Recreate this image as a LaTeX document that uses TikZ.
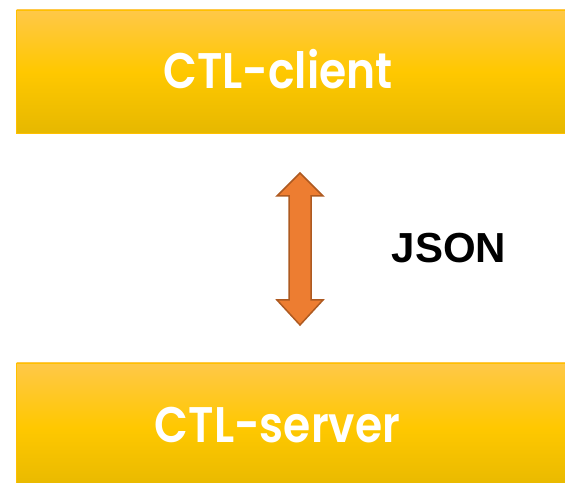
\documentclass[tikz,border=0pt]{standalone}
\usepackage{fontspec}
\newfontfamily\popfont{Poppins SemiBold}[FakeStretch=0.88]
\newfontfamily\jsonfont{Liberation Sans}
\definecolor{boxtop}{RGB}{255,200,72}
\definecolor{boxmid}{RGB}{255,200,0}
\definecolor{boxbot}{RGB}{230,184,0}
\definecolor{boxline}{RGB}{255,192,0}
\definecolor{arrfill}{RGB}{237,125,49}
\definecolor{arrline}{RGB}{174,90,33}
\begin{document}
\begin{tikzpicture}[x=1pt,y=1pt,
  ybox/.style={draw=boxline,line width=0.8pt,top color=boxtop,bottom color=boxbot,middle color=boxmid},
  boxtext/.style={text=white,font=\popfont\fontsize{50}{50}\selectfont,anchor=base},
  jsontext/.style={text=black,font=\jsonfont\bfseries\fontsize{42}{42}\selectfont,anchor=base},
  blockarrow/.style={fill=arrfill,draw=arrline,line width=1.5pt,line join=miter}]
\useasboundingbox (0,0) rectangle (565,482);
\begin{scope}
\clip (0,0) rectangle (565,482);
\path[ybox] (16.5,349) rectangle (580,472);
\path[ybox] (16.5,-10) rectangle (580,119);
\end{scope}
\node[boxtext] (client) at (278,393) {CTL-client};
\node[boxtext] (server) at (277.5,39) {CTL-server};
\node[jsontext] (json) at (449,219) {JSON};
\coordinate (top) at (300,309);
\coordinate (bot) at (300,157);
\draw[blockarrow] (top) -- (323,286) -- (311,286) -- (311,182) -- (323,182) -- (bot)
  -- (277,182) -- (289,182) -- (289,286) -- (277,286) -- cycle;
\end{tikzpicture}
\end{document}
